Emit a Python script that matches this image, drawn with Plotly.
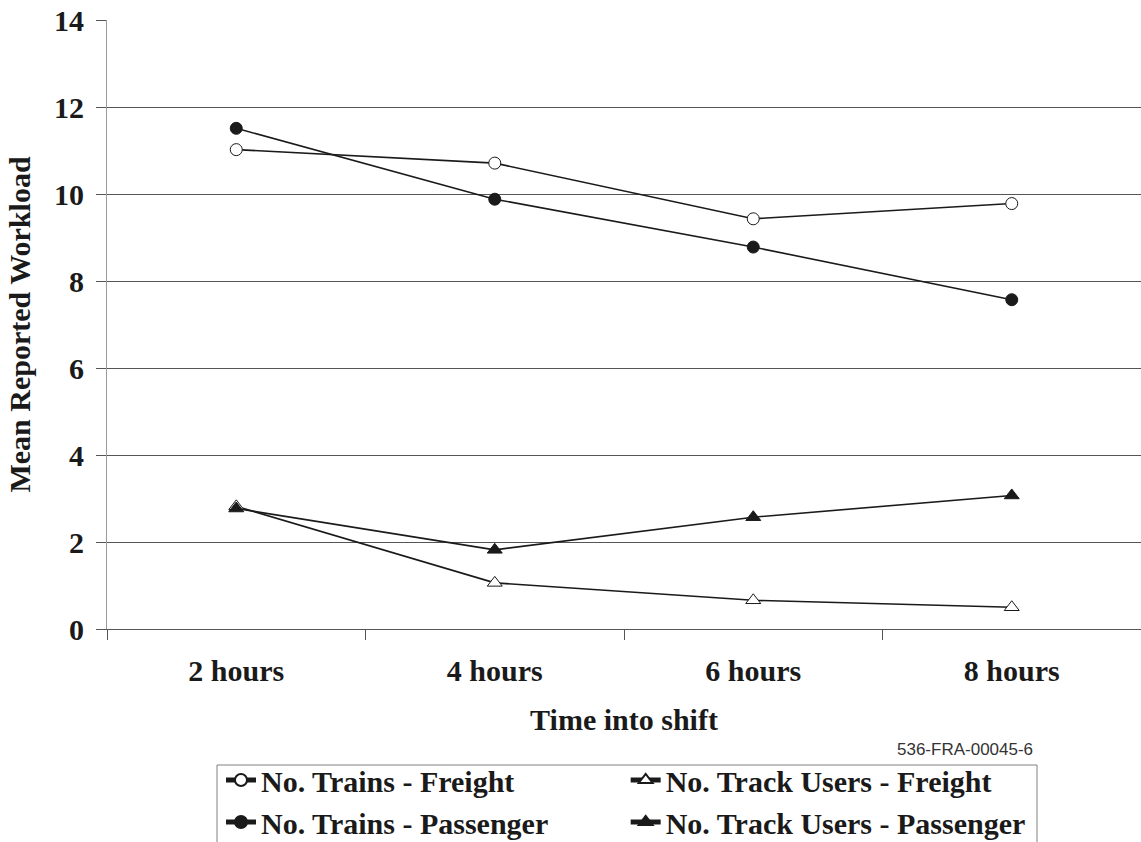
import plotly.graph_objects as go

# Time into shift (categories) and mean reported workload per measure
shift_times = ["2 hours", "4 hours", "6 hours", "8 hours"]
trains_freight = [11.02, 10.71, 9.43, 9.78]
track_users_freight = [2.82, 1.06, 0.66, 0.50]
trains_passenger = [11.51, 9.88, 8.78, 7.57]
track_users_passenger = [2.77, 1.82, 2.57, 3.07]

series_names = [
    "No. Trains - Freight",
    "No. Track Users - Freight",
    "No. Trains - Passenger",
    "No. Track Users - Passenger",
]

INK = "#1a1a1a"
SERIF = "Liberation Serif, Times New Roman, serif"

# plot-area geometry in pixels, used to place paper-referenced items
PLOT_L, PLOT_W = 107, 1034
PLOT_B, PLOT_H = 629, 609


def px_x(x):
    return (x - PLOT_L) / PLOT_W


def px_y(y):
    return (PLOT_B - y) / PLOT_H


styles = [
    dict(symbol="circle", color="white", size=12),
    dict(symbol="triangle-up", color="white", size=13),
    dict(symbol="circle", color=INK, size=12),
    dict(symbol="triangle-up", color=INK, size=13),
]
values = [trains_freight, track_users_freight, trains_passenger, track_users_passenger]

fig = go.Figure()
for name, vals, st in zip(series_names, values, styles):
    fig.add_trace(go.Scatter(
        x=shift_times,
        y=vals,
        name=name,
        mode="lines+markers",
        line=dict(color=INK, width=1.6),
        marker=dict(symbol=st["symbol"], size=st["size"], color=st["color"],
                    line=dict(color=INK, width=1)),
    ))

fig.update_layout(
    width=1141,
    height=842,
    margin=dict(l=PLOT_L, r=0, t=20, b=842 - PLOT_B, autoexpand=False),
    paper_bgcolor="white",
    plot_bgcolor="white",
    font=dict(family=SERIF, color=INK, size=30),
    showlegend=True,
    legend=dict(
        orientation="h",
        x=px_x(221),
        xanchor="left",
        y=px_y(754),
        yanchor="top",
        font=dict(family=SERIF, size=30, color=INK, weight="bold"),
        borderwidth=0,
        bgcolor="rgba(0,0,0,0)",
        itemsizing="constant",
        tracegroupgap=0,
    ),
)

# frame around the legend entries
fig.add_shape(
    type="rect",
    xref="paper", yref="paper",
    x0=px_x(217), x1=px_x(1037),
    y0=px_y(765), y1=px_y(880),
    line=dict(color="#808080", width=1),
    fillcolor="rgba(0,0,0,0)",
    layer="below",
)

fig.update_xaxes(
    type="category",
    range=[-0.5, 3.5],
    tickson="boundaries",
    ticks="outside",
    ticklen=10,
    tickcolor="#555555",
    ticklabelstandoff=15,
    showline=True,
    linecolor="#555555",
    linewidth=1,
    showgrid=False,
    zeroline=False,
    tickfont=dict(family=SERIF, size=30, color=INK, weight="bold"),
    title=dict(text="Time into shift",
               font=dict(family=SERIF, size=30, color=INK, weight="bold"),
               standoff=22),
)

fig.update_yaxes(
    range=[0, 14],
    tick0=0,
    dtick=2,
    ticks="outside",
    ticklen=10,
    tickcolor="#555555",
    ticklabelstandoff=6,
    showline=True,
    linecolor="#9a9a9a",
    linewidth=1,
    showgrid=True,
    gridcolor="#555555",
    gridwidth=1,
    zeroline=False,
    tickfont=dict(family=SERIF, size=30, color=INK, weight="bold"),
    title=dict(text="Mean Reported Workload",
               font=dict(family=SERIF, size=30, color=INK, weight="bold"),
               standoff=14),
)

fig.add_annotation(
    text="536-FRA-00045-6",
    xref="paper", yref="paper",
    x=px_x(1035), y=px_y(749),
    xanchor="right", yanchor="middle",
    showarrow=False,
    font=dict(family="Liberation Sans, Arial, sans-serif", size=17, color="#333333"),
)

fig.write_html("out.html")
